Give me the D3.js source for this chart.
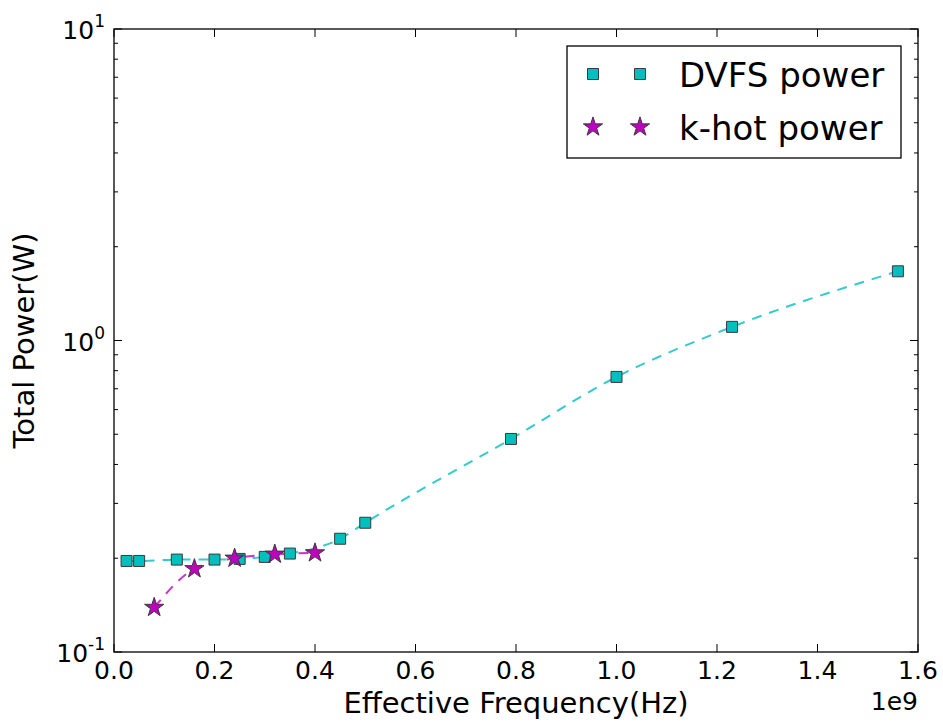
<!DOCTYPE html>
<html>
<head>
<meta charset="utf-8">
<script src="https://cdn.jsdelivr.net/npm/d3@7"></script>
<style>
  html, body { margin: 0; padding: 0; background: #fff; }
  svg { display: block; font-family: "DejaVu Sans", sans-serif; }
</style>
</head>
<body>
<div id="chart"></div>
<script>
// values
const dvfsFreq = [0.025e9, 0.05e9, 0.125e9, 0.2e9, 0.25e9, 0.3e9, 0.35e9, 0.45e9, 0.5e9, 0.79e9, 1.0e9, 1.23e9, 1.56e9];
const dvfsPower = [0.196, 0.196, 0.198, 0.198, 0.199, 0.202, 0.207, 0.231, 0.26, 0.483, 0.764, 1.106, 1.668];
const khotFreq = [0.08e9, 0.16e9, 0.24e9, 0.32e9, 0.40e9];
const khotPower = [0.139, 0.185, 0.2, 0.206, 0.208];
const seriesNames = ['DVFS power', 'k-hot power'];
const xTickValues = [0, 0.2e9, 0.4e9, 0.6e9, 0.8e9, 1.0e9, 1.2e9, 1.4e9, 1.6e9];
const yTickExps = [-1, 0, 1];

const width = 943;
const height = 724;
const margin = { top: 29, right: 25, bottom: 72, left: 114 };
const svg = d3.select('#chart').append('svg').attr('width', width).attr('height', height);

const x = d3.scaleLinear().domain([0, 1.6e9]).range([margin.left, width - margin.right]);
const y = d3.scaleLog().domain([0.1, 10]).range([height - margin.bottom, margin.top]);
const [x0, x1] = x.range();
const [y0, y1] = y.range();

const minorY = [];
yTickExps.slice(0, -1).forEach((e) => {
  for (let k = 2; k <= 9; k++) minorY.push(k * Math.pow(10, e));
});
const majorY = yTickExps.map((e) => Math.pow(10, e));

const ticks = svg.append('g').attr('stroke', '#000').attr('stroke-width', 1);
xTickValues.forEach((v) => {
  ticks.append('line').attr('x1', x(v)).attr('x2', x(v)).attr('y1', y0).attr('y2', y0 - 8);
  ticks.append('line').attr('x1', x(v)).attr('x2', x(v)).attr('y1', y1).attr('y2', y1 + 8);
});
majorY.forEach((v) => {
  ticks.append('line').attr('x1', x0).attr('x2', x0 + 8).attr('y1', y(v)).attr('y2', y(v));
  ticks.append('line').attr('x1', x1).attr('x2', x1 - 8).attr('y1', y(v)).attr('y2', y(v));
});
minorY.forEach((v) => {
  ticks.append('line').attr('x1', x0).attr('x2', x0 + 4).attr('y1', y(v)).attr('y2', y(v));
  ticks.append('line').attr('x1', x1).attr('x2', x1 - 4).attr('y1', y(v)).attr('y2', y(v));
});

// tick labels
svg.append('g')
  .selectAll('text')
  .data(xTickValues)
  .join('text')
  .attr('x', (d) => x(d))
  .attr('y', y0 + 27)
  .attr('text-anchor', 'middle')
  .attr('font-size', 25)
  .attr('fill', '#000')
  .text((d) => (d / 1e9).toFixed(1));

svg.append('text')
  .attr('x', x1)
  .attr('y', y0 + 58)
  .attr('text-anchor', 'end')
  .attr('font-size', 25)
  .text('1e9');

const yLab = svg.append('g')
  .selectAll('text')
  .data(yTickExps)
  .join('text')
  .attr('x', x0 - 9)
  .attr('y', (d) => y(Math.pow(10, d)) + 10)
  .attr('text-anchor', 'end')
  .attr('font-size', 25);
yLab.append('tspan').text('10');
yLab.append('tspan').attr('dy', -12).attr('font-size', 17).text((d) => String(d));

// axis titles
svg.append('text')
  .attr('x', (x0 + x1) / 2)
  .attr('y', 713)
  .attr('text-anchor', 'middle')
  .attr('font-size', 29)
  .text('Effective Frequency(Hz)');

svg.append('text')
  .attr('transform', `translate(34,${(y0 + y1) / 2}) rotate(-90)`)
  .attr('text-anchor', 'middle')
  .attr('font-size', 29)
  .text('Total Power(W)');

// lines
const line = d3.line().x((d) => x(d[0])).y((d) => y(d[1])).curve(d3.curveMonotoneX);
const dvfs = dvfsFreq.map((f, i) => [f, dvfsPower[i]]);
const khot = khotFreq.map((f, i) => [f, khotPower[i]]);
const plot = svg.append('g');

plot.append('path').attr('d', line(dvfs)).attr('fill', 'none')
  .attr('stroke', '#33cccc').attr('stroke-width', 2).attr('stroke-dasharray', '10,8');
plot.append('path').attr('d', line(khot)).attr('fill', 'none')
  .attr('stroke', '#cc33cc').attr('stroke-width', 2).attr('stroke-dasharray', '10,8');

const square = d3.symbol().type(d3.symbolSquare).size(121);
const star = d3.symbol().type(d3.symbolStar).size(115);

plot.selectAll('path.sq').data(dvfs).join('path').attr('class', 'sq')
  .attr('d', square).attr('transform', (d) => `translate(${x(d[0])},${y(d[1])})`)
  .attr('fill', '#00bfbf').attr('stroke', '#3a3a3a').attr('stroke-width', 1);
plot.selectAll('path.st').data(khot).join('path').attr('class', 'st')
  .attr('d', star).attr('transform', (d) => `translate(${x(d[0])},${y(d[1])})`)
  .attr('fill', '#bf00bf').attr('stroke', '#3a3a3a').attr('stroke-width', 1);

// frame
svg.append('rect').attr('x', x0).attr('y', y1).attr('width', x1 - x0).attr('height', y0 - y1)
  .attr('fill', 'none').attr('stroke', '#000').attr('stroke-width', 1.3);

// legend
const legend = svg.append('g');
legend.append('rect').attr('x', 567).attr('y', 46).attr('width', 334).attr('height', 112)
  .attr('fill', '#fff').attr('stroke', '#000').attr('stroke-width', 1.3);
const symbols = [square, star];
const fills = ['#00bfbf', '#bf00bf'];
seriesNames.forEach((name, i) => {
  const cy = 74 + i * 53;
  [593, 640].forEach((cx) => {
    legend.append('path').attr('d', symbols[i]).attr('transform', `translate(${cx},${cy})`)
      .attr('fill', fills[i]).attr('stroke', '#3a3a3a').attr('stroke-width', 1);
  });
  legend.append('text').attr('x', 679).attr('y', cy + 12.5).attr('font-size', 34).text(name);
});
</script>
</body>
</html>
